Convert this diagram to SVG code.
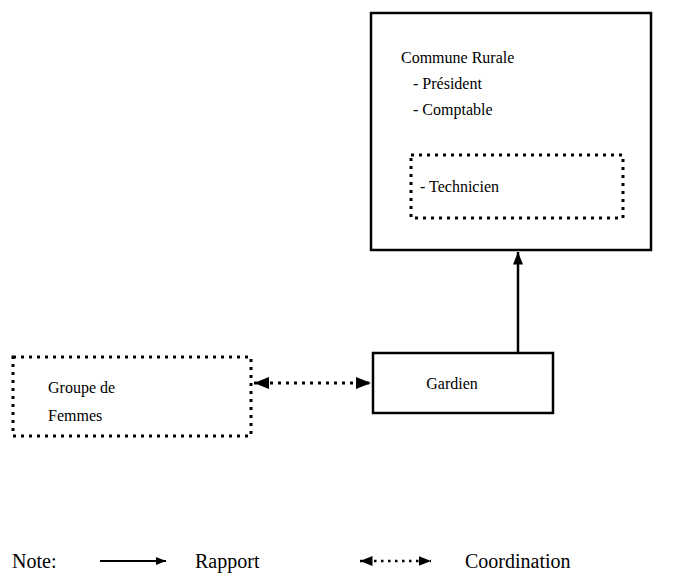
<svg xmlns="http://www.w3.org/2000/svg" width="698" height="580" viewBox="0 0 698 580">
<style>
text{font-family:"Liberation Serif","Times New Roman",serif;font-size:16px;fill:#000}
.lg{font-size:20px}
.solid{fill:none;stroke:#000;stroke-width:2.5}
.dot{fill:none;stroke:#000;stroke-width:3;stroke-dasharray:3 5}
.line{stroke:#000;stroke-width:2.5;fill:none}
.dline{stroke:#000;stroke-width:3;stroke-dasharray:3 5;fill:none}
</style>
<defs>
<marker id="ah" viewBox="0 0 10 10" refX="10" refY="5" markerWidth="5" markerHeight="5" orient="auto-start-reverse" markerUnits="strokeWidth">
<path d="M0,1 L10,5 L0,9 z" fill="#000"/>
</marker>
</defs>
<rect width="698" height="580" fill="#fff"/>
<g id="commune">
<rect class="solid" x="371" y="13" width="280" height="237"/>
<text x="401" y="63">Commune Rurale</text>
<text x="413" y="89">- Président</text>
<text x="413" y="115">- Comptable</text>
</g>
<g id="technicien">
<rect class="dot" x="411" y="155" width="212" height="63"/>
<text x="420" y="192">- Technicien</text>
</g>
<g id="gardien">
<rect class="solid" x="373" y="353" width="180" height="60"/>
<text x="452" y="389" text-anchor="middle">Gardien</text>
</g>
<g id="groupe">
<rect class="dot" x="13" y="357" width="238" height="79"/>
<text x="48" y="393">Groupe de</text>
<text x="48" y="421">Femmes</text>
</g>
<g id="connectors">
<line class="line" x1="518" y1="352" x2="518" y2="252" marker-end="url(#ah)"/>
<line class="dline" x1="254" y1="383" x2="371" y2="383" marker-start="url(#ah)" marker-end="url(#ah)"/>
</g>
<g id="legend">
<text class="lg" x="12" y="568">Note:</text>
<line x1="100" y1="561" x2="166" y2="561" stroke="#000" stroke-width="2" marker-end="url(#ah)"/>
<text class="lg" x="195" y="568">Rapport</text>
<line x1="360" y1="561" x2="431" y2="561" stroke="#000" stroke-width="2.5" stroke-dasharray="2.5 4.5" marker-start="url(#ah)" marker-end="url(#ah)"/>
<text class="lg" x="465" y="568">Coordination</text>
</g>
</svg>
